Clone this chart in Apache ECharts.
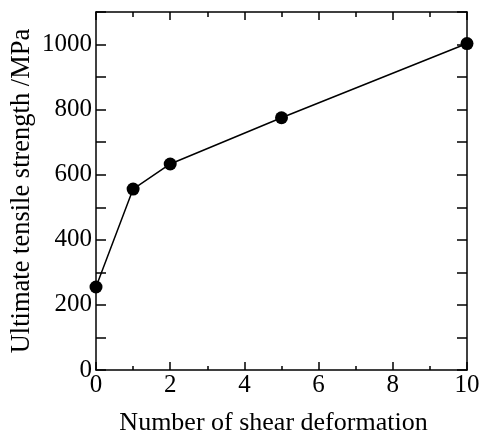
<!DOCTYPE html>
<html>
<head>
<meta charset="utf-8">
<script src="https://cdn.jsdelivr.net/npm/echarts@6/dist/echarts.min.js"></script>
<style>
html,body{margin:0;padding:0;background:#fff;}
#c{width:481px;height:436px;}
</style>
</head>
<body>
<div id="c"></div>
<script>
const shearNumbers = [0, 1, 2, 5, 10];
const tensileStrength = [255, 556, 633, 775, 1003];
const xTicks = [0, 2, 4, 6, 8, 10];
const yTicks = [0, 200, 400, 600, 800, 1000];
const xTitle = 'Number of shear deformation';
const yTitle = 'Ultimate tensile strength /MPa';

const FONT = 'Liberation Serif';
const chart = echarts.init(document.getElementById('c'), null, {renderer: 'canvas'});
const lineStyle = {color: '#000', width: 1.5};

chart.setOption({
  animation: false,
  backgroundColor: '#fff',
  grid: {left: 96, right: 14, top: 12, bottom: 66, containLabel: false, outerBoundsMode: 'none'},
  xAxis: [
    {
      type: 'value', min: 0, max: 10, interval: 2, position: 'bottom',
      axisLine: {show: true, onZero: false, lineStyle: lineStyle},
      axisTick: {show: true, inside: true, length: 8, lineStyle: lineStyle},
      minorTick: {show: true, splitNumber: 2, length: 4, lineStyle: lineStyle},
      splitLine: {show: false},
      axisLabel: {show: true, margin: 3, color: '#000', fontFamily: FONT, fontSize: 25,
        customValues: xTicks},
      name: xTitle, nameLocation: 'middle', nameGap: 40,
      nameTextStyle: {color: '#000', fontFamily: FONT, fontSize: 26, padding: [0, 16, 0, 0]}
    },
    {
      type: 'value', min: 0, max: 10, interval: 2, position: 'top',
      axisLine: {show: true, onZero: false, lineStyle: lineStyle},
      axisTick: {show: true, inside: true, length: 8, lineStyle: lineStyle},
      minorTick: {show: true, splitNumber: 2, length: 5, lineStyle: lineStyle},
      splitLine: {show: false},
      axisLabel: {show: false}
    }
  ],
  yAxis: [
    {
      type: 'value', min: 0, max: 1100, interval: 100, position: 'left',
      axisLine: {show: true, onZero: false, lineStyle: lineStyle},
      axisTick: {show: true, inside: true, length: 10, lineStyle: lineStyle},
      splitLine: {show: false},
      axisLabel: {show: true, margin: 4, color: '#000', fontFamily: FONT, fontSize: 25,
        customValues: yTicks, formatter: v => String(v)},
      name: yTitle, nameLocation: 'middle', nameGap: 60, nameMoveOverlap: false,
      nameTextStyle: {color: '#000', fontFamily: FONT, fontSize: 26.5}
    },
    {
      type: 'value', min: 0, max: 1100, interval: 100, position: 'right',
      axisLine: {show: true, onZero: false, lineStyle: lineStyle},
      axisTick: {show: true, inside: true, length: 10, lineStyle: lineStyle},
      splitLine: {show: false},
      axisLabel: {show: false}
    }
  ],
  series: [{
    type: 'line',
    xAxisIndex: 0, yAxisIndex: 0,
    data: shearNumbers.map((x, i) => [x, tensileStrength[i]]),
    symbol: 'circle', symbolSize: 13,
    itemStyle: {color: '#000'},
    lineStyle: {color: '#000', width: 1.5},
    clip: false,
    z: 5
  }]
});
</script>
</body>
</html>
